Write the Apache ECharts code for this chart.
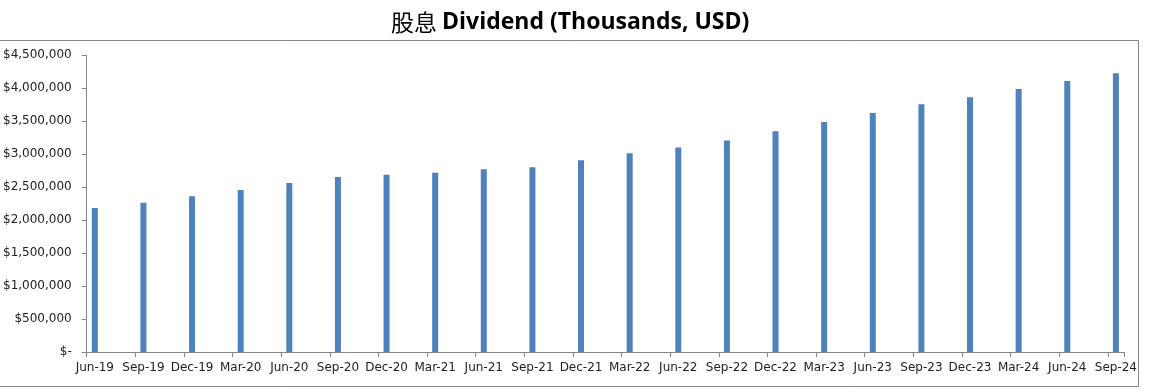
<!DOCTYPE html>
<html>
<head>
<meta charset="utf-8">
<script src="https://cdn.jsdelivr.net/npm/echarts@6/dist/echarts.min.js"></script>
<style>
html,body{margin:0;padding:0;background:#fff;}
#chart{width:1149px;height:391px;}
</style>
</head>
<body>
<div id="chart"></div>
<script>
const quarterLabels = ['Jun-19','Sep-19','Dec-19','Mar-20','Jun-20','Sep-20','Dec-20','Mar-21','Jun-21','Sep-21','Dec-21','Mar-22','Jun-22','Sep-22','Dec-22','Mar-23','Jun-23','Sep-23','Dec-23','Mar-24','Jun-24','Sep-24'];
const dividends = [2180000, 2260000, 2360000, 2455000, 2560000, 2650000, 2685000, 2715000, 2770000, 2800000, 2905000, 3010000, 3100000, 3205000, 3345000, 3485000, 3620000, 3755000, 3860000, 3985000, 4105000, 4225000];
const yTicks = [0, 500000, 1000000, 1500000, 2000000, 2500000, 3000000, 3500000, 4000000, 4500000];

// monthly date axis: each quarter followed by two empty months
const months = [];
const monthValues = [];
quarterLabels.forEach((q, i) => {
  months.push(q);
  monthValues.push(dividends[i]);
  if (i < quarterLabels.length - 1) {
    months.push(q + ' +1', q + ' +2');
    monthValues.push(null, null);
  }
});

function fmtMoney(v) {
  if (v === 0) return '$-';
  return '$' + v.toString().replace(/\B(?=(\d{3})+(?!\d))/g, ',');
}

const chart = echarts.init(document.getElementById('chart'), null, {renderer: 'canvas'});
chart.setOption({
  animation: false,
  backgroundColor: '#fff',
  title: {
    text: '{cn|股息} {en|Dividend (Thousands, USD)}',
    left: 386,
    top: 6,
    textStyle: {
      rich: {
        cn: {fontSize: 23, fontWeight: 'normal', color: '#000', fontFamily: 'Noto Sans CJK SC'},
        en: {fontSize: 23, fontWeight: 'bold', color: '#000', fontFamily: 'Open Sans, sans-serif'}
      }
    }
  },
  graphic: [{
    type: 'rect',
    shape: {x: -1, y: 40.5, width: 1139.5, height: 346},
    style: {fill: 'none', stroke: '#878787', lineWidth: 1},
    silent: true,
    z: -1
  }],
  grid: {left: 86, right: 25, top: 55, bottom: 39, containLabel: false},
  xAxis: {
    type: 'category',
    data: months,
    boundaryGap: true,
    axisLine: {lineStyle: {color: '#868686', width: 1}},
    axisTick: {show: true, interval: 2, length: 5, inside: false, lineStyle: {color: '#868686'}},
    axisLabel: {interval: 2, margin: 10, fontSize: 12, color: '#222', fontFamily: 'DejaVu Sans'},
    splitLine: {show: false}
  },
  yAxis: {
    type: 'value',
    min: 0,
    max: yTicks[yTicks.length - 1],
    interval: yTicks[1] - yTicks[0],
    axisLine: {show: true, lineStyle: {color: '#868686', width: 1}},
    axisTick: {show: true, length: 5, inside: false, lineStyle: {color: '#868686'}},
    axisLabel: {margin: 15, fontSize: 12, color: '#222', fontFamily: 'DejaVu Sans', formatter: fmtMoney},
    splitLine: {show: false}
  },
  series: [{
    type: 'bar',
    data: monthValues,
    barWidth: 6,
    itemStyle: {color: '#4F81BD'}
  }]
});
</script>
</body>
</html>
